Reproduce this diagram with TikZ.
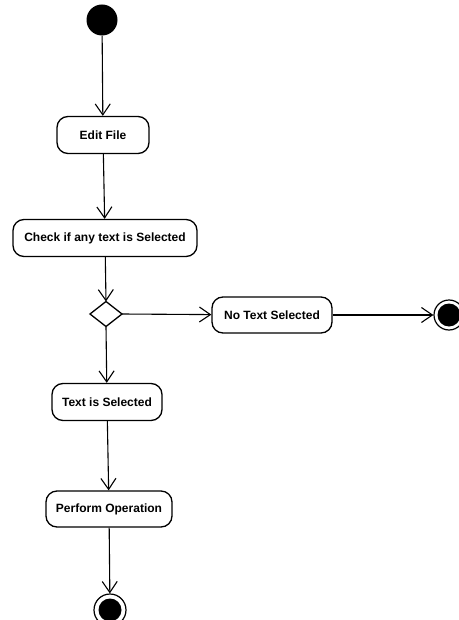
\documentclass[tikz,border=0pt]{standalone}
\usepackage{fontspec}
\setmainfont{Liberation Sans}
\usetikzlibrary{arrows.meta}
\begin{document}
\begin{tikzpicture}[x=1pt,y=-1pt,
  every node/.style={font=\bfseries\fontsize{12}{14}\selectfont},
  action/.style={draw,line width=1.3pt,rounded corners=11pt,minimum height=37pt,inner sep=0pt},
  flow/.style={draw,line width=1.1pt,-{Straight Barb[length=11pt,width=15pt,line width=1.1pt]}},
  initial/.style={circle,fill=black,minimum size=31pt,inner sep=0pt},
  final/.style={circle,draw,line width=1.2pt,minimum size=30pt,inner sep=0pt,
    path picture={\fill (path picture bounding box.center) circle (11.5pt);}}]
\useasboundingbox (0,0) rectangle (458,620);
\node[initial] (start) at (102,20) {};
\node[action,minimum width=92pt] (edit) at (103,135) {Edit File};
\node[action,minimum width=184pt] (check) at (105,238) {Check if any text is Selected};
% decision diamond with its four corners
\draw[line width=1.3pt] (90,314) -- (106,301.5) -- (122,314) -- (106,326.5) -- cycle;
\coordinate (decN) at (106,301.5);
\coordinate (decE) at (122,314);
\coordinate (decS) at (106,326.5);
\node[action,minimum width=120pt,minimum height=36pt] (none) at (272,315) {No Text Selected};
\node[final] (endR) at (449,315) {};
\node[action,minimum width=110pt] (sel) at (107,402) {Text is Selected};
\node[action,minimum width=126pt,minimum height=36pt] (perf) at (109,509) {Perform Operation};
\node[final,minimum size=32pt] (endB) at (110,610) {};
\draw[flow] (start) -- (edit);
\draw[flow] (edit) -- (check);
\draw[flow] (check) -- (decN);
\draw[flow] (decE) -- (none);
\draw[flow] (none) -- (endR);
\draw[flow] (decS) -- (sel);
\draw[flow] (sel) -- (perf);
\draw[flow] (perf) -- (endB);
\end{tikzpicture}
\end{document}
